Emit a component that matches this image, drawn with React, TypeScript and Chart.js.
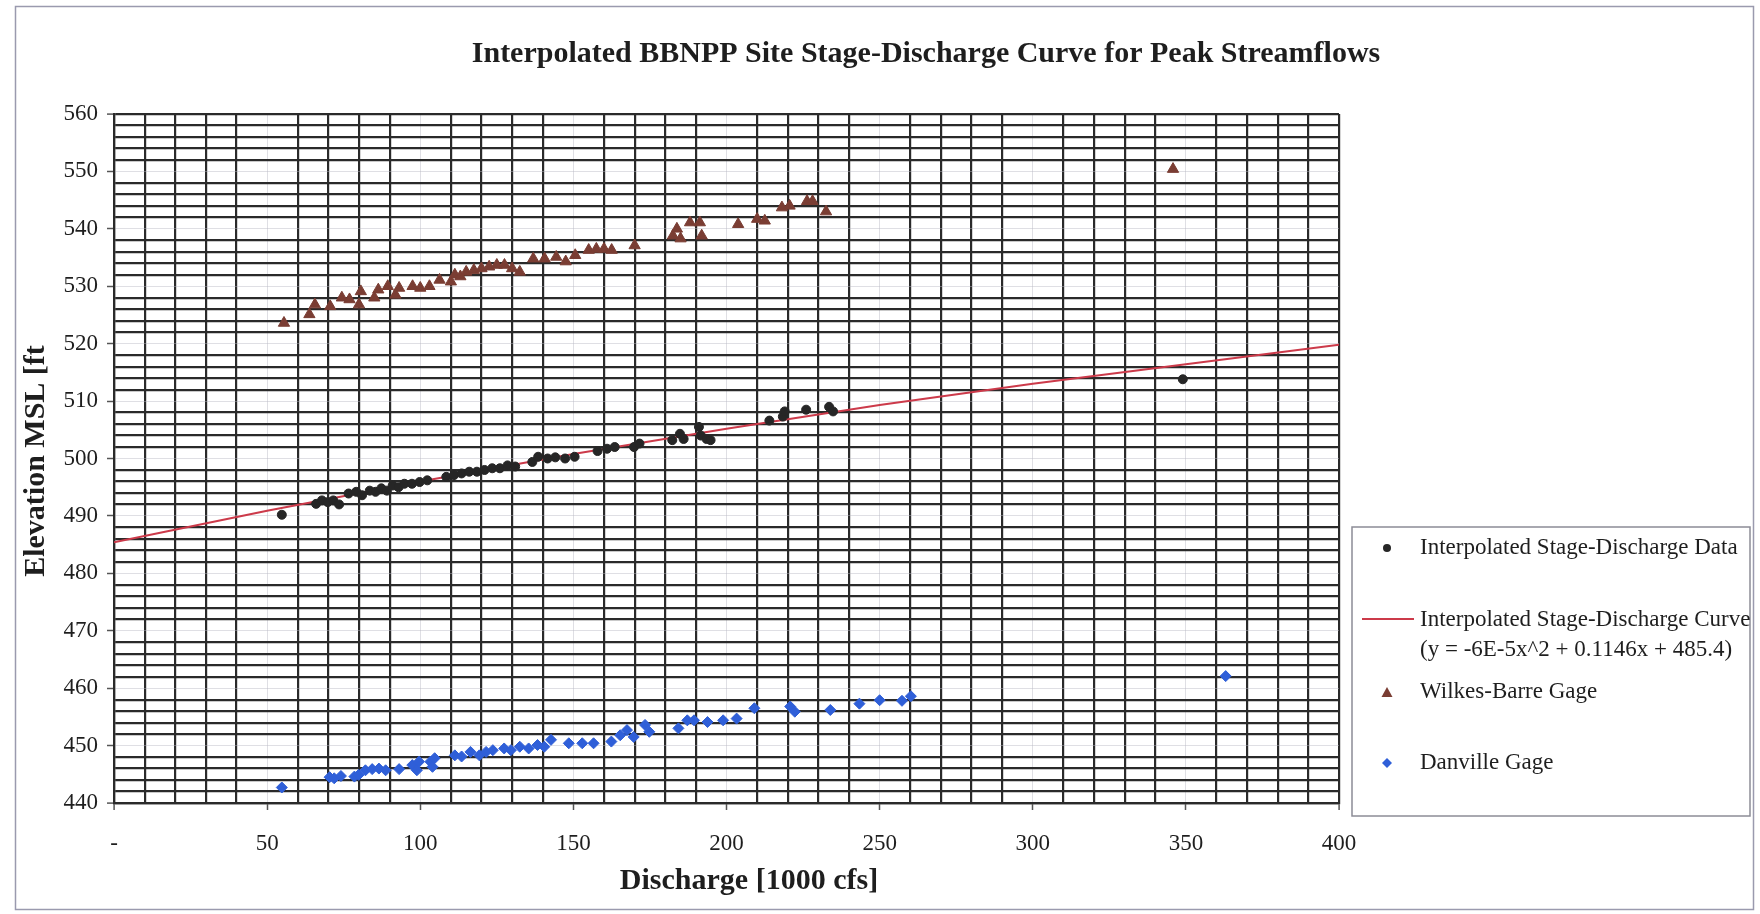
import React, { useEffect, useRef } from 'react';
import { Chart, registerables } from 'chart.js';

Chart.register(...registerables);

const FONT = '"Liberation Serif", "Times New Roman", Times, serif';

const chartTitle = 'Interpolated BBNPP Site Stage-Discharge Curve for Peak Streamflows';
const xAxisTitle = 'Discharge [1000 cfs]';
const yAxisTitle = 'Elevation MSL [ft';

const legendData = 'Interpolated Stage-Discharge Data';
const legendCurve = 'Interpolated Stage-Discharge Curve';
const legendCurveEq = '(y = -6E-5x^2 + 0.1146x + 485.4)';
const legendWilkes = 'Wilkes-Barre Gage';
const legendDanville = 'Danville Gage';

const xMin = 0;
const xMax = 400;
const xMinorStep = 10;
const xMajorStep = 50;
const yMin = 440;
const yMax = 560;
const yMinorStep = 2;
const yMajorStep = 10;

// Interpolated Stage-Discharge Data (black circles)
const interpQ = [54.8, 66.0, 67.9, 69.8, 71.6, 73.5, 76.6, 79.1, 81.0, 83.5, 85.4, 87.3, 89.1, 91.0, 92.9, 94.8, 97.3, 99.8, 102.3,
  108.5, 111.0, 113.5, 116.0, 118.5, 121.0, 123.5, 126.0, 128.5, 131.0,
  136.6, 138.5, 141.6, 144.1, 147.3, 150.4, 157.9, 161.0, 163.5, 169.8, 171.6,
  182.3, 184.8, 186.0, 191.0, 191.6, 193.5, 194.8, 214.0, 218.4, 219.0, 226.0, 233.5, 234.8, 349.0];
const interpElev = [490.2, 492.1, 492.7, 492.4, 492.7, 492.0, 493.9, 494.2, 493.6, 494.4, 494.2, 494.8, 494.4, 495.3, 495.0, 495.6, 495.6, 495.9, 496.2,
  496.8, 497.1, 497.4, 497.7, 497.7, 498.0, 498.3, 498.3, 498.8, 498.6,
  499.4, 500.3, 500.0, 500.2, 500.0, 500.3, 501.3, 501.7, 502.0, 502.0, 502.6,
  503.2, 504.3, 503.4, 505.5, 504.0, 503.4, 503.2, 506.6, 507.3, 508.2, 508.5, 509.0, 508.2, 513.8];

// Interpolated Stage-Discharge Curve (red line)
const curveQ = [0, 50, 100, 150, 200, 250, 300, 350, 400];
const curveElev = [485.4, 490.9, 496.0, 500.8, 505.2, 509.3, 513.0, 516.4, 519.8];

// Wilkes-Barre Gage (brown triangles)
const wilkesQ = [55.5, 63.8, 65.6, 70.6, 74.4, 76.9, 80.0, 80.6, 85.0, 86.3, 89.4, 91.9, 93.1, 97.5, 100.0, 103.0, 106.3,
  110.0, 111.3, 113.1, 115.0, 117.5, 120.0, 122.5, 125.0, 127.5, 130.0, 132.5,
  136.9, 140.6, 144.4, 147.5, 150.6, 155.0, 157.5, 160.0, 162.5, 170.0,
  182.5, 183.8, 185.0, 188.1, 191.3, 191.9, 203.8, 210.0, 212.5, 218.1, 220.6, 226.3, 228.1, 232.5, 345.8];
const wilkesElev = [523.6, 525.1, 526.8, 526.5, 528.0, 527.7, 526.8, 529.1, 528.0, 529.4, 530.0, 528.5, 529.7, 530.0, 529.7, 530.0, 531.1,
  530.8, 532.0, 531.7, 532.5, 532.8, 533.1, 533.4, 533.7, 533.7, 533.1, 532.5,
  534.8, 534.8, 535.1, 534.3, 535.4, 536.3, 536.5, 536.5, 536.3, 537.1,
  538.8, 540.0, 538.3, 541.1, 541.1, 538.8, 540.8, 541.7, 541.4, 543.7, 544.0, 544.8, 544.8, 543.0, 550.4];

// Danville Gage (blue diamonds)
const danvilleQ = [54.8, 70.4, 71.9, 74.1, 78.5, 79.9, 82.1, 84.3, 86.5, 88.7, 93.1, 97.4, 98.9, 99.6, 103.3, 104.0, 104.7,
  111.3, 113.5, 116.4, 119.3, 121.5, 123.7, 127.4, 129.6, 132.5, 135.4, 138.3, 140.5, 142.7,
  148.5, 152.9, 156.6, 162.4, 165.3, 167.5, 169.7, 173.4, 174.8, 184.3, 187.2, 189.4, 193.8, 198.9, 203.3,
  209.1, 220.8, 222.3, 233.9, 243.4, 250.0, 257.3, 260.2, 363.0];
const danvilleElev = [442.7, 444.5, 444.3, 444.7, 444.6, 444.9, 445.7, 445.9, 446.0, 445.7, 445.9, 446.6, 445.7, 447.2, 447.2, 446.3, 447.8,
  448.3, 448.1, 448.9, 448.3, 448.9, 449.2, 449.5, 449.2, 449.8, 449.5, 450.1, 449.8, 451.0,
  450.4, 450.4, 450.4, 450.7, 451.8, 452.7, 451.5, 453.6, 452.4, 453.0, 454.4, 454.4, 454.1, 454.4, 454.7,
  456.5, 456.8, 455.9, 456.2, 457.3, 457.9, 457.8, 458.6, 462.1];

const zip = (xs: number[], ys: number[]) => xs.map((x, i) => ({ x, y: ys[i] }));

const COLORS = {
  grid: '#2a2a2a',
  gridMajor: 'rgba(185,185,195,0.45)',
  text: '#1e1e1e',
  interp: '#262626',
  curve: '#cc3a4a',
  wilkes: '#7a3d33',
  danville: '#2f5fd8',
  frame: '#9a9aae',
  legendFrame: '#8c8c96',
};

const LAYOUT = {
  canvasW: 1760,
  canvasH: 914,
  plotLeft: 114,
  plotTop: 114,
  plotRight: 1339,
  plotBottom: 803,
};

const decorPlugin = {
  id: 'decor',
  beforeDraw(chart: any) {
    const ctx = chart.ctx;
    ctx.save();
    ctx.fillStyle = '#ffffff';
    ctx.fillRect(0, 0, chart.width, chart.height);
    ctx.restore();
  },
  afterDraw(chart: any) {
    const ctx: CanvasRenderingContext2D = chart.ctx;
    ctx.save();
    // outer frame
    ctx.strokeStyle = COLORS.frame;
    ctx.lineWidth = 1.5;
    ctx.strokeRect(15.5, 6.5, 1738, 903);

    // title
    ctx.fillStyle = COLORS.text;
    ctx.textAlign = 'center';
    ctx.textBaseline = 'middle';
    ctx.font = `bold 30px ${FONT}`;
    ctx.fillText(chartTitle, 926, 54);

    // x axis title
    ctx.fillText(xAxisTitle, 749, 881);

    // y axis title
    ctx.save();
    ctx.translate(36, 461);
    ctx.rotate(-Math.PI / 2);
    ctx.fillText(yAxisTitle, 0, 0);
    ctx.restore();

    // legend
    ctx.strokeStyle = COLORS.legendFrame;
    ctx.lineWidth = 1.5;
    ctx.strokeRect(1352, 527, 398, 289);
    ctx.font = `23px ${FONT}`;
    ctx.textAlign = 'left';
    ctx.fillStyle = COLORS.text;
    const tx = 1420;
    const mx = 1387;
    ctx.fillText(legendData, tx, 548);
    ctx.fillText(legendCurve, tx, 620);
    ctx.fillText(legendCurveEq, tx, 650);
    ctx.fillText(legendWilkes, tx, 692);
    ctx.fillText(legendDanville, tx, 763);

    // markers
    ctx.fillStyle = COLORS.interp;
    ctx.beginPath();
    ctx.arc(mx, 548, 4, 0, Math.PI * 2);
    ctx.fill();

    ctx.strokeStyle = COLORS.curve;
    ctx.lineWidth = 2;
    ctx.beginPath();
    ctx.moveTo(1362, 619);
    ctx.lineTo(1414, 619);
    ctx.stroke();

    ctx.fillStyle = COLORS.wilkes;
    ctx.beginPath();
    ctx.moveTo(mx, 687);
    ctx.lineTo(mx + 5.5, 697);
    ctx.lineTo(mx - 5.5, 697);
    ctx.closePath();
    ctx.fill();

    ctx.fillStyle = COLORS.danville;
    ctx.beginPath();
    ctx.moveTo(mx, 758);
    ctx.lineTo(mx + 5, 763);
    ctx.lineTo(mx, 768);
    ctx.lineTo(mx - 5, 763);
    ctx.closePath();
    ctx.fill();

    ctx.restore();
  },
};

export default function App() {
  const canvasRef = useRef<HTMLCanvasElement | null>(null);

  useEffect(() => {
    const canvas = canvasRef.current;
    if (!canvas) return;

    const isXMajor = (v: number) => v % xMajorStep === 0;
    const isYMajor = (v: number) => v % yMajorStep === 0;

    const chart = new Chart(canvas, {
      type: 'scatter',
      data: {
        datasets: [
          {
            label: legendData,
            data: zip(interpQ, interpElev),
            pointStyle: 'circle',
            pointRadius: 4.5,
            pointBackgroundColor: COLORS.interp,
            pointBorderColor: COLORS.interp,
            pointBorderWidth: 1,
            showLine: false,
          },
          {
            label: legendCurve,
            data: zip(curveQ, curveElev),
            showLine: true,
            borderColor: COLORS.curve,
            borderWidth: 2,
            pointRadius: 0,
            tension: 0.4,
            cubicInterpolationMode: 'monotone',
            fill: false,
          },
          {
            label: legendWilkes,
            data: zip(wilkesQ, wilkesElev),
            pointStyle: 'triangle',
            pointRadius: 6.5,
            pointBackgroundColor: COLORS.wilkes,
            pointBorderColor: COLORS.wilkes,
            pointBorderWidth: 1,
            showLine: false,
          },
          {
            label: legendDanville,
            data: zip(danvilleQ, danvilleElev),
            pointStyle: 'rectRot',
            pointRadius: 5.5,
            pointBackgroundColor: COLORS.danville,
            pointBorderColor: COLORS.danville,
            pointBorderWidth: 1,
            showLine: false,
          },
        ],
      } as any,
      options: {
        animation: false,
        responsive: false,
        maintainAspectRatio: false,
        layout: {
          padding: {
            left: 0,
            top: LAYOUT.plotTop,
            right: LAYOUT.canvasW - LAYOUT.plotRight,
            bottom: 0,
          },
        },
        plugins: {
          legend: { display: false },
          title: { display: false },
          tooltip: { enabled: false },
        },
        scales: {
          x: {
            type: 'linear',
            min: xMin,
            max: xMax,
            afterFit: (scale: any) => {
              scale.height = LAYOUT.canvasH - LAYOUT.plotBottom;
            },
            ticks: {
              stepSize: xMinorStep,
              autoSkip: false,
              maxRotation: 0,
              minRotation: 0,
              padding: 20,
              color: COLORS.text,
              font: { family: FONT, size: 23 },
              callback: (v: any) => {
                const n = Number(v);
                if (n === 0) return '-';
                return isXMajor(n) ? String(n) : '';
              },
            },
            grid: {
              drawOnChartArea: true,
              tickLength: 7,
              color: (c: any) => {
                const v = c.tick ? c.tick.value : 0;
                if (v === xMin || v === xMax) return COLORS.grid;
                return isXMajor(v) ? COLORS.gridMajor : COLORS.grid;
              },
              lineWidth: (c: any) => {
                const v = c.tick ? c.tick.value : 0;
                if (v === xMin || v === xMax) return 2.2;
                return isXMajor(v) ? 1 : 2.2;
              },
              tickColor: (c: any) => {
                const v = c.tick ? c.tick.value : 0;
                return isXMajor(v) ? '#555555' : 'rgba(0,0,0,0)';
              },
              tickWidth: 1.5,
            },
            border: { display: true, color: COLORS.grid, width: 2.2 },
          },
          y: {
            type: 'linear',
            min: yMin,
            max: yMax,
            afterFit: (scale: any) => {
              scale.width = LAYOUT.plotLeft;
            },
            ticks: {
              stepSize: yMinorStep,
              autoSkip: false,
              padding: 9,
              color: COLORS.text,
              font: { family: FONT, size: 23 },
              callback: (v: any) => {
                const n = Number(v);
                return isYMajor(n) ? String(n) : '';
              },
            },
            grid: {
              drawOnChartArea: true,
              tickLength: 7,
              color: (c: any) => {
                const v = c.tick ? c.tick.value : 0;
                if (v === yMin || v === yMax) return COLORS.grid;
                return isYMajor(v) ? COLORS.gridMajor : COLORS.grid;
              },
              lineWidth: (c: any) => {
                const v = c.tick ? c.tick.value : 0;
                if (v === yMin || v === yMax) return 2.2;
                return isYMajor(v) ? 1 : 2.2;
              },
              tickColor: (c: any) => {
                const v = c.tick ? c.tick.value : 0;
                return isYMajor(v) ? '#555555' : 'rgba(0,0,0,0)';
              },
              tickWidth: 1.5,
            },
            border: { display: true, color: COLORS.grid, width: 2.2 },
          },
        },
      } as any,
      plugins: [decorPlugin],
    });

    return () => {
      chart.destroy();
    };
  }, []);

  return (
    <div style={{ position: 'fixed', left: 0, top: 0, width: LAYOUT.canvasW, height: LAYOUT.canvasH, background: '#fff' }}>
      <canvas
        ref={canvasRef}
        width={LAYOUT.canvasW}
        height={LAYOUT.canvasH}
        style={{ display: 'block', width: LAYOUT.canvasW, height: LAYOUT.canvasH }}
      />
    </div>
  );
}
